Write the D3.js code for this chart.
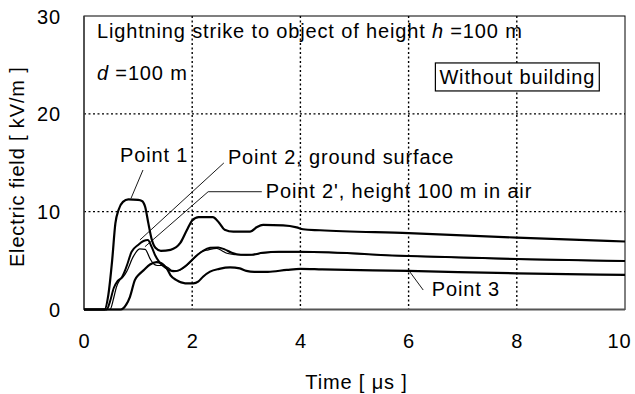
<!DOCTYPE html>
<html><head><meta charset="utf-8">
<script src="https://cdn.jsdelivr.net/npm/d3@7"></script>
<style>
body{margin:0;background:#fff;}
text{font-family:"Liberation Sans",Arial,sans-serif;font-size:20px;fill:#000;letter-spacing:0.85px;}
</style></head>
<body><svg id="c" width="635" height="394"></svg>
<script>
// ---- data (time in µs, field in kV/m) ----
const xTicks = [0, 2, 4, 6, 8, 10];
const yTicks = [0, 10, 20, 30];
const xGrid = [2, 4, 6, 8];
const yGrid = [10, 20];

const point1T = [0,0.38,0.45,0.52,0.58,0.64,0.72,0.82,1.0,1.07,1.13,1.19,1.25,1.32,1.42,1.6,1.78,1.9,2.0,2.12,2.38,2.5,2.6,2.76,3.07,3.19,3.31,3.68,3.93,4.05,4.36,6,8,10];
const point1E = [0,0,1.5,5,8.8,10.2,11.0,11.25,11.2,11.1,10.5,8.8,7.2,6.3,6.0,6.1,6.8,8.1,9.1,9.45,9.45,8.85,8.15,7.95,7.95,8.4,8.64,8.6,8.4,8.2,8.1,7.8,7.35,6.95];

const point2T = [0,0.42,0.48,0.55,0.62,0.7,0.78,0.88,1.0,1.1,1.18,1.25,1.31,1.4,1.5,1.65,1.75,1.9,2.0,2.1,2.2,2.33,2.48,2.6,2.73,2.9,3.1,3.3,3.6,4.0,6,8,10];
const point2E = [0,0,0.8,2.2,2.9,3.3,4.3,5.9,6.6,7.0,7.1,6.4,5.6,4.8,4.3,3.9,4.0,4.55,5.1,5.6,6.0,6.3,6.35,6.15,5.8,5.6,5.6,5.8,5.9,5.9,5.47,5.16,4.96];

const point2aT = [0,0.48,0.55,0.6,0.66,0.72,0.79,0.91,1.03,1.13,1.22,1.28,1.35,1.45,1.55,1.62,1.72,1.85,2.0,2.1,2.17,2.3,2.45,2.55,2.64,2.8,3.0,3.3,3.6,4.0,6,8,10];
const point2aE = [0,0,1.2,2.3,3.0,3.3,3.9,5.4,6.2,6.15,5.2,4.7,4.5,4.5,4.3,4.0,3.95,4.3,5.0,5.6,5.9,6.1,6.25,6.0,5.75,5.6,5.55,5.75,5.85,5.85,5.45,5.13,4.94];

const point3T = [0,0.68,0.78,0.85,0.94,1.02,1.1,1.22,1.34,1.43,1.53,1.6,1.71,1.87,2.02,2.11,2.2,2.33,2.5,2.7,2.88,3.0,3.15,3.4,3.75,4.0,4.4,6,8,10];
const point3E = [0,0,0.5,1.3,3.0,3.6,4.0,4.6,4.85,4.72,4.2,3.5,3.0,2.68,2.68,2.85,3.35,3.87,4.15,4.3,4.2,3.95,3.85,3.85,4.05,4.15,4.1,3.94,3.7,3.53];

const seriesNames = ["Point 1", "Point 2, ground surface", "Point 2', height 100 m in air", "Point 3"];
const seriesWidths = [2.2, 2.0, 1.2, 2.2];

// annotation anchors (data units)
const labelT = [0.665, 2.66, 3.36, 6.43];
const labelE = [15.08, 14.88, 11.4, 1.38];
const leaders = [
  [[1.09,14.26],[0.868,11.35]],
  [[2.585,14.98],[1.034,7.11]],
  [[3.287,12.04],[2.295,12.04],[1.127,6.42]],
  [[6.02,3.87],[6.27,1.99]]
];
const titleLine1 = ["Lightning strike to object of height ", "h", " =100 m"];
const titleLine2 = ["d", " =100 m"];
const boxLabel = "Without building";

// ---- layout ----
const svg = d3.select("#c");
const L = 84, R = 625, T = 16, B = 309.5;
const x = d3.scaleLinear().domain([0, 10]).range([L, R]);
const y = d3.scaleLinear().domain([0, 30]).range([B, T]);

// grid
svg.append("g").selectAll("line").data(xGrid).join("line")
  .attr("x1", d => x(d)).attr("x2", d => x(d)).attr("y1", T).attr("y2", B)
  .attr("stroke", "#000").attr("stroke-width", 1.4).attr("stroke-dasharray", "2,2.5");
svg.append("g").selectAll("line").data(yGrid).join("line")
  .attr("y1", d => y(d)).attr("y2", d => y(d)).attr("x1", L).attr("x2", R)
  .attr("stroke", "#000").attr("stroke-width", 1.4).attr("stroke-dasharray", "2,2.5");

// frame
svg.append("rect").attr("x", L).attr("y", T).attr("width", R - L).attr("height", B - T)
  .attr("fill", "none").attr("stroke", "#000").attr("stroke-width", 1);
svg.append("line").attr("x1", L).attr("x2", R).attr("y1", B).attr("y2", B)
  .attr("stroke", "#555").attr("stroke-width", 2);
svg.append("line").attr("x1", L).attr("x2", L).attr("y1", T).attr("y2", B)
  .attr("stroke", "#444").attr("stroke-width", 1.5);

// axes (labels only)
const xAxis = d3.axisBottom(x).tickValues(xTicks).tickSize(0).tickPadding(0).tickFormat(d3.format("d"));
const gx = svg.append("g").attr("transform", `translate(0,${B})`).call(xAxis);
gx.select(".domain").remove();
gx.attr("font-size", null).attr("font-family", null);
gx.selectAll("text").attr("y", 38).attr("dy", null).style("font-size", "20px")
  .attr("text-anchor", d => d === 10 ? "end" : "middle").attr("dx", d => d === 10 ? 6 : 0);
const yAxis = d3.axisLeft(y).tickValues(yTicks).tickSize(0).tickPadding(0).tickFormat(d3.format("d"));
const gy = svg.append("g").attr("transform", `translate(${L},0)`).call(yAxis);
gy.select(".domain").remove();
gy.attr("font-size", null).attr("font-family", null);
gy.selectAll("text").attr("x", -23).attr("dy", "0.35em").style("font-size", "20px");

svg.append("text").attr("x", (L + R) / 2 + 2).attr("y", 389).attr("text-anchor", "middle")
  .text("Time [ \u03bcs ]");
svg.append("text").attr("transform", `translate(24,${(T + B) / 2 + 4}) rotate(-90)`)
  .attr("text-anchor", "middle").text("Electric field [ kV/m ]");

// curves
const line = d3.line().x(d => x(d[0])).y(d => y(d[1])).curve(d3.curveMonotoneX);
const series = [
  d3.zip(point1T, point1E), d3.zip(point2T, point2E),
  d3.zip(point2aT, point2aE), d3.zip(point3T, point3E)
];
svg.append("g").selectAll("path").data(series).join("path")
  .attr("d", line).attr("fill", "none").attr("stroke", "#000")
  .attr("stroke-width", (d, i) => seriesWidths[i]).attr("stroke-linejoin", "round");

// leader lines and labels
const lline = d3.line().x(d => x(d[0])).y(d => y(d[1]));
svg.append("g").selectAll("path").data(leaders).join("path")
  .attr("d", lline).attr("fill", "none").attr("stroke", "#000").attr("stroke-width", 0.9);
svg.append("g").selectAll("text").data(seriesNames).join("text")
  .attr("x", (d, i) => x(labelT[i])).attr("y", (d, i) => y(labelE[i])).text(d => d);

// title lines
const t1 = svg.append("text").attr("x", x(0.24)).attr("y", y(27.76));
titleLine1.forEach((s, i) => t1.append("tspan").attr("font-style", i === 1 ? "italic" : null).text(s));
const t2 = svg.append("text").attr("x", x(0.24)).attr("y", y(23.36) - 1);
titleLine2.forEach((s, i) => t2.append("tspan").attr("font-style", i === 0 ? "italic" : null).text(s));

// box label
const bx = x(8.01), by = y(23.77);
const boxG = svg.append("g");
const brect = boxG.append("rect");
const bt = boxG.append("text").attr("x", bx).attr("y", by + 7).attr("text-anchor", "middle").text(boxLabel);
const bb = bt.node().getBBox();
brect.attr("x", bb.x - 4).attr("y", by - 14).attr("width", bb.width + 8).attr("height", 28)
  .attr("fill", "#fff").attr("stroke", "#000").attr("stroke-width", 1.2);
</script></body></html>
